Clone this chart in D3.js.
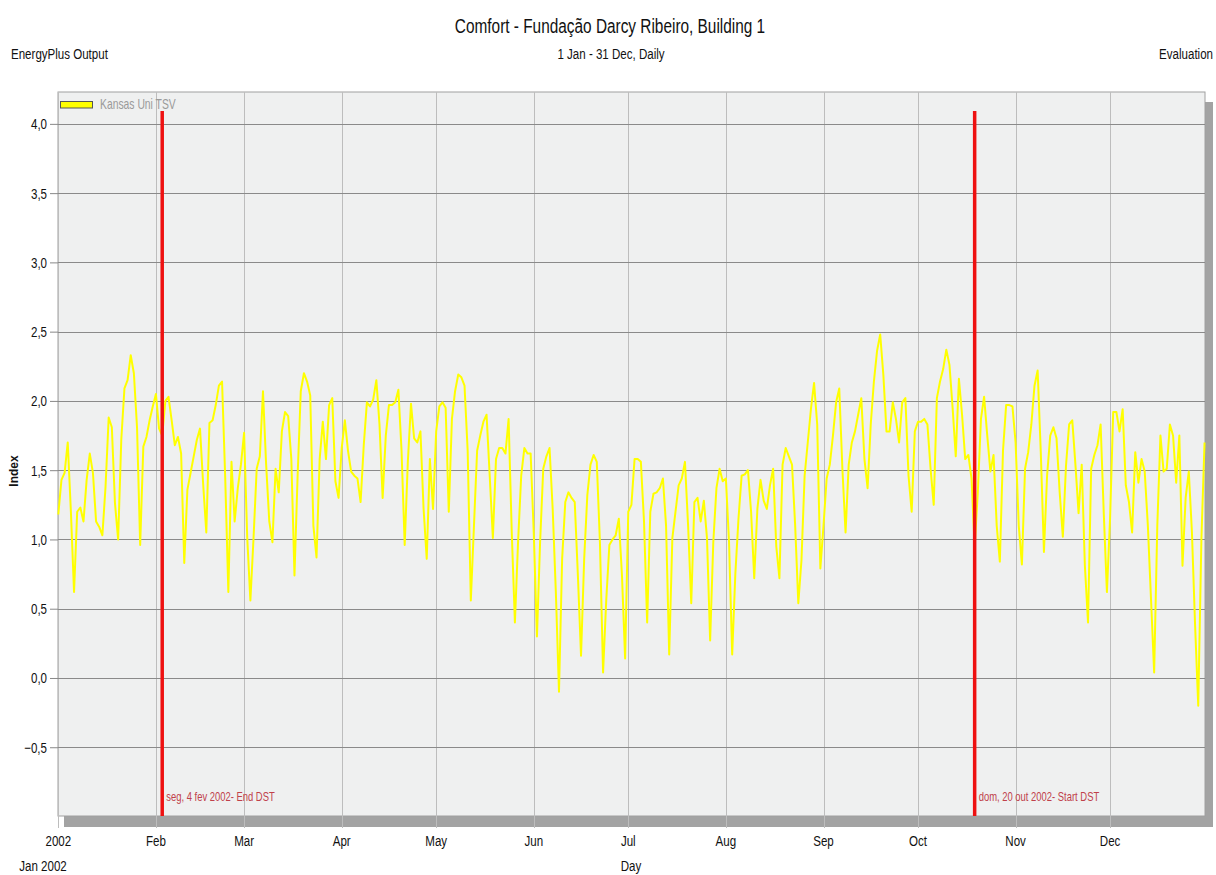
<!DOCTYPE html>
<html>
<head>
<meta charset="utf-8">
<script src="https://cdn.jsdelivr.net/npm/d3@7"></script>
<style>
  html, body { margin: 0; padding: 0; background: #ffffff; }
  svg { display: block; }
  text { font-family: "Liberation Sans", Arial, "DejaVu Sans", sans-serif; }
</style>
</head>
<body>
<svg id="chart" width="1216" height="875"></svg>
<script>
// ---------------- data ----------------
const title = "Comfort - Fundação Darcy Ribeiro, Building 1";
const subtitle = "1 Jan - 31 Dec, Daily";
const leftNote = "EnergyPlus Output";
const rightNote = "Evaluation";
const seriesName = "Kansas Uni TSV";
const yAxisTitle = "Index";
const xAxisTitle = "Day";
const startDate = "2002-01-01";

// daily Kansas Uni TSV values, 1 Jan .. 31 Dec 2002
const tsv = [
  1.18,1.43,1.48,1.70,1.20,0.62,1.20,1.23,1.13,1.43,
  1.62,1.48,1.13,1.09,1.03,1.38,1.88,1.81,1.26,1.00,
  1.72,2.09,2.15,2.33,2.20,1.81,0.96,1.67,1.74,1.86,
  1.96,2.05,1.80,1.75,2.00,2.03,1.86,1.68,1.74,1.62,
  0.83,1.36,1.48,1.60,1.72,1.80,1.40,1.05,1.84,1.86,
  1.97,2.11,2.14,1.45,0.62,1.56,1.13,1.37,1.54,1.77,
  1.01,0.56,1.01,1.51,1.60,2.07,1.54,1.13,0.98,1.51,
  1.34,1.78,1.92,1.89,1.58,0.74,1.46,2.07,2.20,2.14,
  2.04,1.10,0.87,1.58,1.85,1.58,1.97,2.02,1.42,1.30,
  1.66,1.86,1.64,1.49,1.46,1.44,1.27,1.68,1.99,1.96,
  2.01,2.15,1.83,1.30,1.75,1.97,1.97,1.99,2.08,1.64,
  0.96,1.56,1.98,1.73,1.70,1.78,1.22,0.86,1.58,1.22,
  1.78,1.96,1.99,1.95,1.20,1.87,2.07,2.19,2.17,2.11,
  1.64,0.56,1.10,1.64,1.75,1.85,1.90,1.46,1.01,1.58,
  1.66,1.66,1.62,1.87,1.05,0.40,0.98,1.46,1.66,1.62,
  1.62,1.04,0.30,0.98,1.51,1.60,1.66,1.22,0.62,-0.10,
  0.86,1.27,1.34,1.30,1.27,0.74,0.16,0.86,1.32,1.54,
  1.61,1.56,0.98,0.04,0.56,0.96,1.00,1.03,1.15,0.74,
  0.14,1.20,1.25,1.58,1.58,1.56,1.13,0.40,1.20,1.33,
  1.34,1.37,1.44,1.10,0.17,1.01,1.20,1.39,1.44,1.56,
  1.10,0.54,1.27,1.30,1.13,1.28,1.01,0.27,0.98,1.37,
  1.51,1.42,1.44,0.98,0.17,0.75,1.15,1.46,1.47,1.50,
  1.20,0.72,1.22,1.43,1.28,1.22,1.39,1.51,0.95,0.72,
  1.54,1.66,1.60,1.54,1.10,0.54,0.85,1.46,1.70,1.94,
  2.13,1.83,0.79,1.10,1.44,1.54,1.75,1.99,2.09,1.51,
  1.05,1.54,1.70,1.78,1.90,2.02,1.58,1.37,1.83,2.14,
  2.36,2.48,2.19,1.78,1.78,1.99,1.87,1.70,1.99,2.02,
  1.46,1.20,1.78,1.85,1.85,1.87,1.83,1.51,1.25,2.02,
  2.14,2.23,2.37,2.26,1.95,1.60,2.16,1.90,1.58,1.61,
  1.44,0.95,1.34,1.87,2.03,1.75,1.49,1.61,1.10,0.84,
  1.64,1.97,1.97,1.96,1.70,1.10,0.82,1.51,1.63,1.83,
  2.11,2.22,1.63,0.91,1.46,1.75,1.81,1.73,1.34,1.02,
  1.53,1.83,1.86,1.54,1.19,1.54,0.81,0.40,1.51,1.61,
  1.68,1.83,1.19,0.62,1.15,1.92,1.92,1.78,1.94,1.39,
  1.27,1.05,1.63,1.41,1.58,1.49,1.10,0.57,0.04,1.10,
  1.75,1.49,1.51,1.83,1.75,1.41,1.75,0.81,1.30,1.49,
  1.05,0.38,-0.20,1.00,1.70
];

const yTicks = [-0.5, 0, 0.5, 1.0, 1.5, 2.0, 2.5, 3.0, 3.5, 4.0];
const monthLabels = ["2002","Feb","Mar","Apr","May","Jun","Jul","Aug","Sep","Oct","Nov","Dec"];
const xSubLabel = "Jan 2002";

const dstDates = ["2002-02-03", "2002-10-19"];
const dstLabels = ["seg, 4 fev 2002- End DST", "dom, 20 out 2002- Start DST"];

// ---------------- drawing ----------------
const svg = d3.select("#chart");
const plot = { left: 58, top: 92, right: 1205, bottom: 816 };
const NARROW = 0.77;

// narrow (condensed) text helper
function ntext(g, px, py, str, size, anchor, fill, sx) {
  return g.append("text")
    .attr("transform", `translate(${px},${py}) scale(${sx || NARROW},1)`)
    .attr("text-anchor", anchor || "start")
    .attr("font-size", size)
    .attr("fill", fill || "#111")
    .text(str);
}

const parse = d3.utcParse("%Y-%m-%d");
const t0 = parse(startDate);
const points = tsv.map((v, i) => ({ date: d3.utcDay.offset(t0, i), value: v }));

const x = d3.scaleUtc()
  .domain([t0, d3.utcDay.offset(t0, 364)])
  .range([58.3, 58.3 + 364 * 3.149]);

const y = d3.scaleLinear()
  .domain([-1.0, 4.23])
  .range([816.5, 92]);

svg.append("rect").attr("width", 1216).attr("height", 875).attr("fill", "#ffffff");

// titles
ntext(svg, 610, 33, title, 20, "middle");
ntext(svg, 611, 59, subtitle, 15, "middle");
ntext(svg, 11, 59, leftNote, 15, "start");
ntext(svg, 1213, 59, rightNote, 15, "end");

// shadow + plot background
svg.append("rect")
  .attr("x", plot.left + 6).attr("y", plot.top + 10)
  .attr("width", plot.right - plot.left + 2).attr("height", plot.bottom - plot.top + 1)
  .attr("fill", "#a3a3a3");
svg.append("rect")
  .attr("x", plot.left).attr("y", plot.top)
  .attr("width", plot.right - plot.left).attr("height", plot.bottom - plot.top)
  .attr("fill", "#eff0f0").attr("stroke", "#a0a0a0").attr("stroke-width", 1);

const monthTicks = d3.utcMonth.range(t0, d3.utcDay.offset(t0, 365));

// vertical month gridlines
svg.append("g").selectAll("line").data(monthTicks).join("line")
  .attr("x1", d => Math.round(x(d)) + 0.5).attr("x2", d => Math.round(x(d)) + 0.5)
  .attr("y1", plot.top).attr("y2", plot.bottom + 12)
  .attr("stroke", "#bdbdbd").attr("stroke-width", 1);

// horizontal gridlines
svg.append("g").selectAll("line").data(yTicks).join("line")
  .attr("x1", plot.left).attr("x2", plot.right)
  .attr("y1", d => Math.round(y(d)) + 0.5).attr("y2", d => Math.round(y(d)) + 0.5)
  .attr("stroke", "#8a8a8a").attr("stroke-width", 1);

// y axis (ticks via d3 axis, labels condensed)
const yAxis = d3.axisLeft(y).tickValues(yTicks).tickSize(8).tickFormat("");
const gy = svg.append("g").attr("transform", `translate(${plot.left},0)`).call(yAxis);
gy.select(".domain").remove();
gy.selectAll(".tick line").attr("stroke", "#888");
const fmt = d => d3.format(".1f")(d).replace(".", ",");
yTicks.forEach(v => ntext(svg, 47, y(v) + 5.5, fmt(v), 15, "end"));

// x axis
const xAxis = d3.axisBottom(x).tickValues(monthTicks).tickSize(0).tickFormat("");
const gx = svg.append("g").attr("transform", `translate(0,${plot.bottom})`).call(xAxis);
gx.select(".domain").remove();
monthTicks.forEach((d, i) => ntext(svg, x(d), 846, monthLabels[i], 15, "middle"));

ntext(svg, 43, 871, xSubLabel, 15, "middle");
ntext(svg, 631, 871, xAxisTitle, 15, "middle");

// y title
svg.append("text")
  .attr("transform", "translate(18,471) rotate(-90)")
  .attr("text-anchor", "middle").attr("font-size", 12).attr("font-weight", "bold")
  .attr("fill", "#111").text(yAxisTitle);

// data line
const line = d3.line().x(d => x(d.date)).y(d => y(d.value));
svg.append("path").datum(points)
  .attr("d", line).attr("fill", "none")
  .attr("stroke", "#ffff00").attr("stroke-width", 2).attr("stroke-linejoin", "round");

// DST markers
const dst = dstDates.map((d, i) => ({ date: parse(d), label: dstLabels[i] }));
svg.append("g").selectAll("line").data(dst).join("line")
  .attr("x1", d => x(d.date)).attr("x2", d => x(d.date))
  .attr("y1", 111).attr("y2", plot.bottom)
  .attr("stroke", "#ee1111").attr("stroke-width", 3.5);
dst.forEach(d => ntext(svg, x(d.date) + 4, 801, d.label, 12.5, "start", "#c0404a", 0.755));

// legend
svg.append("rect").attr("x", 60.5).attr("y", 101.5).attr("width", 32).attr("height", 6.5)
  .attr("fill", "#ffff00").attr("stroke", "#555").attr("stroke-width", 1);
ntext(svg, 100, 108.5, seriesName, 14, "start", "#9a9a9a", 0.74);
</script>
</body>
</html>
